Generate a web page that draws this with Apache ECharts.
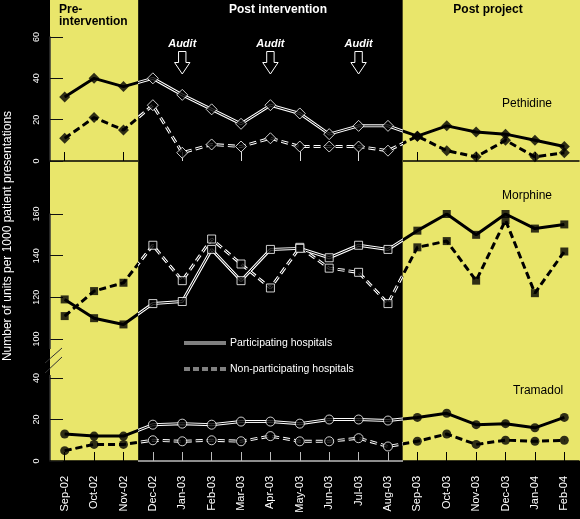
<!DOCTYPE html>
<html lang="en">
<head>
    <meta charset="UTF-8">
    <meta name="viewport" content="width=device-width,initial-scale=1.0">
    <title>Pethidine, morphine and tramadol use</title>
    <style>
        html, body { margin: 0; padding: 0; background: #000; }
        #main { width: 580px; height: 519px; }
    </style>
    <script src="https://cdn.jsdelivr.net/npm/echarts@6/dist/echarts.min.js"></script>
</head>
<body>
<div id="main"></div>
<script>
    // months on the x axis
    var months = ['Sep-02', 'Oct-02', 'Nov-02', 'Dec-02', 'Jan-03', 'Feb-03', 'Mar-03', 'Apr-03', 'May-03',
        'Jun-03', 'Jul-03', 'Aug-03', 'Sep-03', 'Oct-03', 'Nov-03', 'Dec-03', 'Jan-04', 'Feb-04'];

    // units per 1000 patient presentations
    var pethidinePart = [31, 40, 36, 40, 32, 25, 18, 27, 23, 13, 17, 17, 12, 17, 14, 13, 10, 7];
    var pethidineNon = [11, 21, 15, 27, 4, 8, 7, 11, 7, 7, 7, 5, 12, 5, 2, 10, 2, 4];
    var morphinePart = [119, 110, 107, 117, 118, 143, 128, 143, 143.5, 139, 145, 143, 152, 160, 150, 160, 153, 155];
    var morphineNon = [111, 123, 127, 145, 128, 148, 136, 124.5, 144, 134, 132, 117, 144, 147, 128, 157, 122, 142];
    var tramadolPart = [13, 12, 12, 17.5, 18, 17.5, 19, 19, 18, 20, 20, 19.5, 21, 23, 17.5, 18, 16, 21];
    var tramadolNon = [5, 8, 8, 10, 9.5, 10, 9.5, 12, 9.5, 9.5, 11, 7, 9.5, 13, 8, 10, 9.5, 10];

    // y axis ranges (min, max), tick step 20
    var pethidineRange = [0, 60];
    var morphineRange = [100, 160];
    var tramadolRange = [0, 40];

    var preEnd = 'Nov-02';       // last month of pre-intervention
    var postStart = 'Sep-03';    // first month of post project
    var auditMonths = ['Jan-03', 'Apr-03', 'Jul-03'];

    var FONT = '"Liberation Sans", Arial, sans-serif';
    var YELLOW = '#e9e66b';

    var chart = echarts.init(document.getElementById('main'));

    function yAxis(i, range) {
        return {
            type: 'value', gridIndex: i, min: range[0], max: range[1], interval: 20,
            axisLine: {show: true, lineStyle: {color: '#333', width: 1.5}},
            axisTick: {show: true, inside: true, length: 13, lineStyle: {color: '#111'}},
            axisLabel: {color: '#fff', fontSize: 9, rotate: 90, margin: 9, fontFamily: FONT},
            splitLine: {show: false}
        };
    }

    function xAxis(i) {
        return {
            type: 'category', gridIndex: i, data: months, boundaryGap: true,
            axisLine: {show: false}, axisTick: {show: false}, axisLabel: {show: false},
            splitLine: {show: false}
        };
    }

    chart.setOption({
        backgroundColor: '#000',
        animation: false,
        grid: [
            {left: 50, right: 1, top: 37, height: 124, outerBoundsMode: 'none'},
            {left: 50, right: 1, top: 214, height: 125, outerBoundsMode: 'none'},
            {left: 50, right: 1, top: 378, height: 83, outerBoundsMode: 'none'}
        ],
        xAxis: [xAxis(0), xAxis(1), xAxis(2)],
        yAxis: [yAxis(0, pethidineRange), yAxis(1, morphineRange), yAxis(2, tramadolRange)]
    });

    // phase boundaries in pixels, from the category axis
    var px = function (m) { return chart.convertToPixel({xAxisIndex: 0}, m); };
    var band = px(months[1]) - px(months[0]);
    var x0 = px(months[0]) - band / 2;
    var x1 = px(months[months.length - 1]) + band / 2;
    var b1 = px(preEnd) + band / 2;
    var b2 = px(postStart) - band / 2;
    var W = chart.getWidth();
    var bottomY = chart.convertToPixel({yAxisIndex: 2}, tramadolRange[0]);
    var preIdx = months.indexOf(preEnd), postIdx = months.indexOf(postStart);

    // colour a on the yellow bands, colour b on the black band
    function split(a, b) {
        return new echarts.graphic.LinearGradient(0, 0, W, 0, [
            {offset: 0, color: a}, {offset: b1 / W, color: a},
            {offset: b1 / W, color: b}, {offset: b2 / W, color: b},
            {offset: b2 / W, color: a}, {offset: 1, color: a}
        ], true);
    }

    function onYellow(i) { return i <= preIdx || i >= postIdx; }

    var symbols = ['diamond', 'rect', 'circle'];
    var sizes = [11, 8, 9];

    function drugSeries(g, values, dashed) {
        var dash = dashed ? [7, 4] : 'solid';
        return [
            {
                type: 'line', xAxisIndex: g, yAxisIndex: g, data: values, symbol: 'none', silent: true, z: 2,
                lineStyle: {color: split('#000', '#fff'), width: 3, type: dash}
            },
            {
                type: 'line', xAxisIndex: g, yAxisIndex: g, data: values, symbol: 'none', silent: true, z: 3,
                lineStyle: {color: '#000', width: 1, type: dash}
            },
            {
                type: 'scatter', xAxisIndex: g, yAxisIndex: g, symbol: symbols[g], symbolSize: sizes[g],
                silent: true, z: 4,
                data: values.map(function (v, i) {
                    return {
                        value: v,
                        itemStyle: onYellow(i) ? {color: '#000'} : {color: '#000', borderColor: '#fff', borderWidth: 1}
                    };
                })
            }
        ];
    }

    var series = [].concat(
        drugSeries(0, pethidineNon, true), drugSeries(0, pethidinePart, false),
        drugSeries(1, morphineNon, true), drugSeries(1, morphinePart, false),
        drugSeries(2, tramadolNon, true), drugSeries(2, tramadolPart, false)
    );

    function txt(x, y, text, font, fill, align) {
        return {
            type: 'text', x: x, y: y, silent: true, z: 10,
            style: {
                text: text, font: font, fill: fill,
                align: align || 'left', textAlign: align || 'left',
                verticalAlign: 'middle', textVerticalAlign: 'middle'
            }
        };
    }

    function seg(xa, ya, xb, yb, color, width, dash, z) {
        return {
            type: 'line', silent: true, z: z || 10,
            shape: {x1: xa, y1: ya, x2: xb, y2: yb},
            style: {stroke: color, lineWidth: width, lineDash: dash || null}
        };
    }

    var graphics = [
        {type: 'rect', silent: true, z: -10, shape: {x: x0, y: 0, width: b1 - x0, height: bottomY}, style: {fill: YELLOW}},
        {type: 'rect', silent: true, z: -10, shape: {x: b2, y: 0, width: x1 - b2 + 1, height: bottomY}, style: {fill: YELLOW}},
        txt(59, 9.5, 'Pre-', 'bold 12px ' + FONT, '#000'),
        txt(59, 22, 'intervention', 'bold 12px ' + FONT, '#000'),
        txt(278, 9.5, 'Post intervention', 'bold 12px ' + FONT, '#fff', 'center'),
        txt(488, 9.5, 'Post project', 'bold 12px ' + FONT, '#000', 'center'),
        txt(502, 104, 'Pethidine', '12px ' + FONT, '#000'),
        txt(502, 196, 'Morphine', '12px ' + FONT, '#000'),
        txt(513, 391, 'Tramadol', '12px ' + FONT, '#000'),
        // legend
        seg(184, 343, 226, 343, '#fff', 3),
        seg(184, 343, 226, 343, '#000', 1),
        txt(230, 343, 'Participating hospitals', '10.5px ' + FONT, '#fff'),
        seg(184, 369, 226, 369, '#fff', 3, [6, 3]),
        seg(184, 369, 226, 369, '#000', 1, [6, 3]),
        txt(230, 369, 'Non-participating hospitals', '10.5px ' + FONT, '#fff'),
        // y axis title
        {
            type: 'text', x: 8, y: 236, rotation: Math.PI / 2, silent: true, z: 10,
            style: {
                text: 'Number of units per 1000 patient presentations', font: '12px ' + FONT, fill: '#fff',
                align: 'center', textAlign: 'center', verticalAlign: 'middle', textVerticalAlign: 'middle'
            }
        },
        // axis break
        seg(50, 339, 50, 349, '#333', 1.5),
        seg(50, 375, 50, 378, '#333', 1.5),
        seg(45, 363, 62, 348, '#333', 1),
        seg(45, 373, 62, 357, '#333', 1)
    ];

    auditMonths.forEach(function (m) {
        var cx = px(m);
        graphics.push(txt(cx, 43.5, 'Audit', 'italic bold 11px ' + FONT, '#fff', 'center'));
        graphics.push({
            type: 'polygon', silent: true, z: 10,
            shape: {
                points: [[cx - 3.7, 51.5], [cx + 3.7, 51.5], [cx + 3.7, 62.5], [cx + 7.7, 62.5],
                    [cx, 74], [cx - 7.7, 62.5], [cx - 3.7, 62.5]]
            },
            style: {fill: '#000', stroke: '#fff', lineWidth: 1}
        });
    });

    chart.setOption({
        xAxis: [
            {
                axisLine: {show: true, lineStyle: {color: split('#000', 'rgba(0,0,0,0)'), width: 1.5}},
                axisTick: {show: true, inside: true, length: 9, alignWithLabel: true, lineStyle: {color: split('#000', '#ddd')}}
            },
            {},
            {
                axisLine: {show: true, lineStyle: {color: split('#000', '#bbb'), width: 1.5}},
                axisTick: {show: true, inside: true, length: 9, alignWithLabel: true, lineStyle: {color: split('#000', '#bbb')}},
                axisLabel: {show: true, interval: 0, rotate: 90, color: '#fff', fontSize: 11, margin: 15, fontFamily: FONT}
            }
        ],
        series: series,
        graphic: graphics
    });
</script>
</body>
</html>
